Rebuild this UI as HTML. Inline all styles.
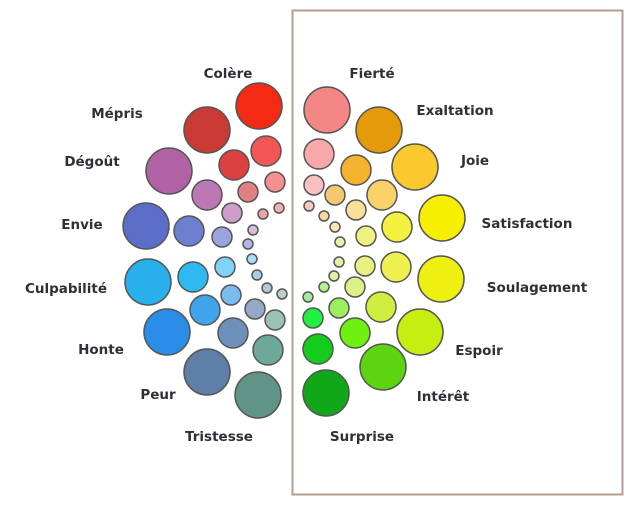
<!DOCTYPE html><html><head><style>body{margin:0;background:#fff}svg text{font-family:"DejaVu Sans",sans-serif;font-weight:bold;font-size:13.5px;fill:#2f2f38;text-anchor:middle}</style></head><body>
<svg width="640" height="506" viewBox="0 0 640 506">
<rect x="292.5" y="10.5" width="330" height="484" fill="none" stroke="#b59f8c" stroke-width="2"/>
<g stroke="#555" stroke-width="1.5">
<circle cx="259" cy="106" r="23" fill="#f52a14"/><circle cx="266" cy="151" r="15" fill="#f45555"/><circle cx="275" cy="182" r="10" fill="#f59090"/><circle cx="279" cy="208" r="5" fill="#f2b0b0"/>
<circle cx="207" cy="130" r="23" fill="#c83a33"/><circle cx="234" cy="165" r="15" fill="#dd4040"/><circle cx="248" cy="192" r="10" fill="#e08080"/><circle cx="263" cy="214" r="5" fill="#e4a6a6"/>
<circle cx="169" cy="171" r="23" fill="#b062a4"/><circle cx="207" cy="195" r="15" fill="#bb78b5"/><circle cx="232" cy="213" r="10" fill="#cf9dcb"/><circle cx="253" cy="230" r="5" fill="#dcbadb"/>
<circle cx="146" cy="226" r="23" fill="#5c6ec8"/><circle cx="189" cy="231" r="15" fill="#6f7fd0"/><circle cx="222" cy="237" r="10" fill="#9aa4e0"/><circle cx="248" cy="244" r="5" fill="#b0b6e8"/>
<circle cx="148" cy="282" r="23" fill="#27b0ec"/><circle cx="193" cy="277" r="15" fill="#2ebaf0"/><circle cx="225" cy="267" r="10" fill="#7fd3f6"/><circle cx="252" cy="259" r="5" fill="#a9def5"/>
<circle cx="167" cy="332" r="23" fill="#2a8ee8"/><circle cx="205" cy="310" r="15" fill="#3fa4ec"/><circle cx="231" cy="295" r="10" fill="#7bbcf0"/><circle cx="257" cy="275" r="5" fill="#a9cbe3"/>
<circle cx="207" cy="372" r="23" fill="#5d7fa8"/><circle cx="233" cy="333" r="15" fill="#6c90b8"/><circle cx="255" cy="309" r="10" fill="#93aac6"/><circle cx="267" cy="288" r="5" fill="#b3c6d4"/>
<circle cx="258" cy="395" r="23" fill="#5f9486"/><circle cx="268" cy="350" r="15" fill="#6ea898"/><circle cx="275" cy="320" r="10" fill="#9cc0b4"/><circle cx="282" cy="294" r="5" fill="#b7d0c6"/>
<circle cx="327" cy="110" r="23" fill="#f58686"/><circle cx="319" cy="154" r="15" fill="#f7a8a8"/><circle cx="314" cy="185" r="10" fill="#f8c0c0"/><circle cx="309" cy="206" r="5" fill="#f4c8c4"/>
<circle cx="379" cy="130" r="23" fill="#e59a0a"/><circle cx="356" cy="170" r="15" fill="#f5b330"/><circle cx="335" cy="195" r="10" fill="#f6c870"/><circle cx="324" cy="216" r="5" fill="#f6d8a0"/>
<circle cx="415" cy="167" r="23" fill="#f9c92e"/><circle cx="382" cy="195" r="15" fill="#f9d36a"/><circle cx="356" cy="210" r="10" fill="#fadf98"/><circle cx="335" cy="227" r="5" fill="#f8e8b8"/>
<circle cx="442" cy="218" r="23" fill="#f6f000"/><circle cx="397" cy="227" r="15" fill="#f4f040"/><circle cx="366" cy="236" r="10" fill="#eef080"/><circle cx="340" cy="242" r="5" fill="#eef0a8"/>
<circle cx="441" cy="279" r="23" fill="#eef010"/><circle cx="396" cy="267" r="15" fill="#eef050"/><circle cx="365" cy="266" r="10" fill="#e8f080"/><circle cx="339" cy="262" r="5" fill="#e8f0a8"/>
<circle cx="420" cy="332" r="23" fill="#c6ee10"/><circle cx="381" cy="307" r="15" fill="#d0ee40"/><circle cx="355" cy="287" r="10" fill="#dcf088"/><circle cx="334" cy="276" r="5" fill="#e0f0a8"/>
<circle cx="383" cy="367" r="23" fill="#5cd410"/><circle cx="355" cy="333" r="15" fill="#6ef010"/><circle cx="339" cy="308" r="10" fill="#9cf060"/><circle cx="324" cy="287" r="5" fill="#b8f090"/>
<circle cx="326" cy="393" r="23" fill="#10a818"/><circle cx="318" cy="349" r="15" fill="#14cc1c"/><circle cx="313" cy="318" r="10" fill="#20f040"/><circle cx="308" cy="297" r="5" fill="#a8e8a0"/>
</g>
<text x="228" y="78">Colère</text><text x="117" y="118">Mépris</text><text x="92" y="166">Dégoût</text><text x="82" y="229">Envie</text><text x="66" y="293">Culpabilité</text><text x="101" y="354">Honte</text><text x="158" y="399">Peur</text><text x="219" y="441">Tristesse</text>
<text x="372" y="78">Fierté</text><text x="455" y="115">Exaltation</text><text x="475" y="165">Joie</text><text x="527" y="228">Satisfaction</text><text x="537" y="292">Soulagement</text><text x="479" y="355">Espoir</text><text x="443" y="401">Intérêt</text><text x="362" y="441">Surprise</text>
</svg></body></html>
